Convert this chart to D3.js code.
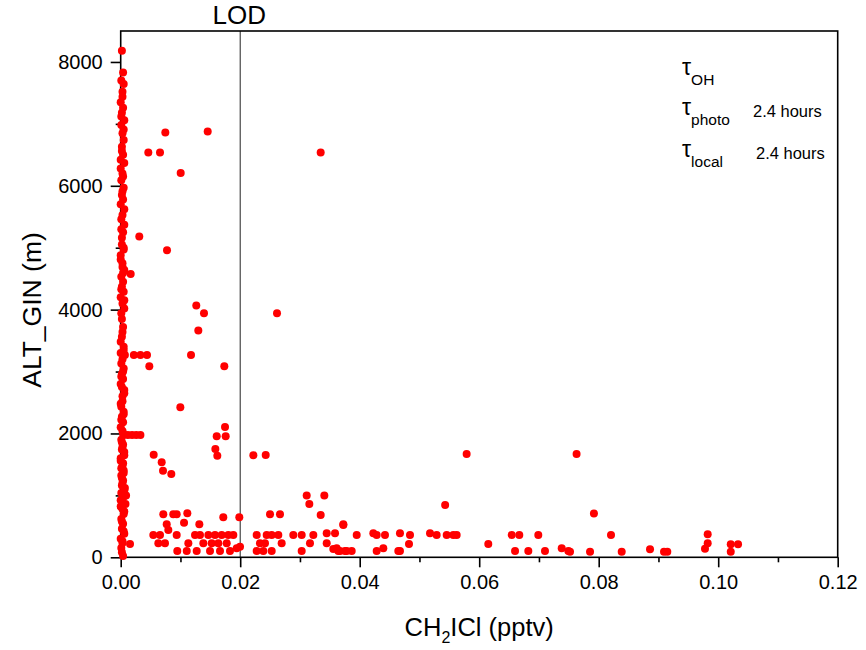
<!DOCTYPE html>
<html>
<head>
<meta charset="utf-8">
<script src="https://cdn.jsdelivr.net/npm/d3@7"></script>
<style>
  body { margin: 0; background: #fff; }
  svg text { font-family: "Liberation Sans", Arial, sans-serif; fill: #000; }
</style>
</head>
<body>
<svg id="chart" width="866" height="650"></svg>
<script>
// points hugging the x = 0 edge
let colConc = [0.0002, 0.0004, 0.0001, 0.0005, 0.0003, 0.0000, 0.0004, 0.0002, 0.0006, 0.0001,
  0.0003, 0.0005, 0.0002, 0.0004, 0.0000, 0.0006, 0.0003, 0.0001, 0.0005, 0.0002,
  0.0004, 0.0000, 0.0003, 0.0006, 0.0001, 0.0004, 0.0002, 0.0005, 0.0000, 0.0003,
  0.0006, 0.0001, 0.0004, 0.0002, 0.0005, 0.0000, 0.0003, 0.0006, 0.0001, 0.0004,
  0.0002, 0.0005, 0.0000, 0.0007, 0.0003, 0.0001, 0.0005, 0.0002, 0.0004, 0.0000,
  0.0006, 0.0003, 0.0001, 0.0005, 0.0002, 0.0004, 0.0000, 0.0003, 0.0005, 0.0001,
  0.0004, 0.0002, 0.0006, 0.0000, 0.0003, 0.0005, 0.0001, 0.0004, 0.0002, 0.0006,
  0.0009, 0.0000, 0.0008, 0.0003, 0.0005, 0.0001, 0.0004, 0.0002, 0.0006, 0.0000,
  0.0003, 0.0001, 0.0002, 0.0004,
  0.0003, 0.0001, 0.0005, 0.0002, 0.0000, 0.0004, 0.0003, 0.0006, 0.0001, 0.0002,
  0.0005, 0.0000, 0.0003, 0.0004, 0.0001, 0.0006, 0.0002, 0.0003, 0.0000, 0.0005,
  0.0004, 0.0001, 0.0002, 0.0006, 0.0003, 0.0000, 0.0005, 0.0001, 0.0004, 0.0002,
  0.0003, 0.0006, 0.0000, 0.0004, 0.0001, 0.0005, 0.0002, 0.0003, 0.0007, 0.0001,
  0.0004, 0.0000, 0.0006, 0.0002, 0.0005, 0.0003];
let colAlt = [8180, 7830, 7700, 7645, 7440, 7350, 7260, 7180, 7060, 6980,
  6850, 6740, 6630, 6500, 6420, 6370, 6200, 6090, 5970, 5850,
  5780, 5700, 5530, 5370, 5300, 5250, 5050, 4970, 4880, 4750,
  4640, 4530, 4450, 4370, 4290, 4200, 4100, 4020, 3940, 3720,
  3560, 3400, 3300, 3268, 3200, 3130, 3050, 2960, 2880, 2800,
  2700, 2600, 2430, 2350, 2270, 2180, 2100, 2040, 1975, 1900,
  1820, 1740, 1650, 1560, 1480, 1400, 1320, 1240, 1160, 1080,
  1000, 920, 860, 780, 700, 620, 540, 460, 380, 300,
  230, 150, 80, 20,
  7520, 7120, 6910, 6560, 6280, 6150, 5910, 5620, 5460, 5160,
  5000, 4810, 4690, 4590, 4330, 4150, 3850, 3640, 3480, 3350,
  3000, 2920, 2750, 2650, 2520, 2480, 2310, 2220, 2000, 1860,
  1780, 1700, 1600, 1520, 1440, 1360, 1280, 1200, 1120, 1040,
  960, 820, 740, 580, 420, 260];

// scattered measurements
let conc = [0.00747, 0.01456, 0.00462, 0.00658, 0.01004, 0.00311, 0.00775, 0.00167, 0.01265, 0.01394,
  0.01299, 0.01177, 0.0022, 0.0033, 0.0044, 0.00479, 0.01734, 0.00998, 0.0012, 0.0019,
  0.0026, 0.0033, 0.01746, 0.01607, 0.01757, 0.01584, 0.01617, 0.00552, 0.00686, 0.00708,
  0.00847, 0.03347, 0.02616, 0.0222, 0.02427, 0.03113, 0.03408, 0.0579, 0.0543, 0.0763,
  0.0792,
  0.00713, 0.0088, 0.00937, 0.01115, 0.0077, 0.00797, 0.0106, 0.01316, 0.01717, 0.01985,
  0.02499, 0.02666, 0.03157, 0.03347, 0.00156, 0.00546, 0.00658, 0.0063, 0.00741, 0.00937,
  0.00947, 0.01132, 0.01105, 0.01272, 0.01244, 0.01327, 0.01467, 0.01578, 0.0169, 0.01801,
  0.01885, 0.01383, 0.01523, 0.01634, 0.01774, 0.01495, 0.01662, 0.01829, 0.01941, 0.01997,
  0.02276, 0.02443, 0.02527, 0.02638, 0.02331, 0.02415, 0.02694, 0.02276, 0.02387, 0.02527,
  0.02889, 0.03029, 0.03224, 0.03029, 0.03168, 0.03448, 0.03587, 0.03726, 0.03448, 0.03615,
  0.0367, 0.03782,
  0.03726, 0.0395, 0.03558, 0.03642, 0.03754, 0.03866, 0.04228, 0.04284, 0.04423, 0.04674,
  0.04842, 0.04284, 0.04395, 0.04646, 0.04674, 0.04825, 0.05177, 0.05288, 0.05456, 0.05567,
  0.05623, 0.06152, 0.06544, 0.06671, 0.066, 0.06822, 0.06989, 0.07101, 0.07381, 0.07492,
  0.0752, 0.07855, 0.08206, 0.08385, 0.08859, 0.09093, 0.09148, 0.09824, 0.09824, 0.09779,
  0.1021, 0.10332, 0.1021];
let alt = [6860, 6876, 6536, 6536, 6208, 5180, 4960, 4577, 4065, 3942,
  3661, 3268, 3268, 3268, 3268, 3085, 3085, 2423, 1975, 1975,
  1975, 1975, 2105, 1955, 1955, 1750, 1641, 1657, 1535, 1399,
  1346, 6536, 3942, 1648, 1653, 1000, 1000, 1669, 845, 1669,
  706,
  695, 695, 695, 711, 533, 441, 559, 533, 646, 646,
  695, 695, 861, 683, 215, 360, 360, 226, 226, 360,
  102, 226, 102, 102, 360, 360, 360, 360, 360, 360,
  360, 226, 226, 226, 226, 102, 102, 102, 145, 171,
  360, 360, 360, 360, 226, 226, 226, 102, 102, 102,
  360, 360, 360, 102, 226, 388, 388, 522, 226, 145,
  102, 102,
  533, 360, 134, 102, 102, 102, 388, 360, 360, 388,
  360, 102, 145, 102, 102, 215, 388, 360, 360, 360,
  360, 215, 360, 360, 102, 102, 360, 102, 145, 102,
  91, 91, 360, 91, 129, 91, 91, 372, 226, 139,
  210, 210, 91];

let xMajor = [0, 0.02, 0.04, 0.06, 0.08, 0.10, 0.12];
let xMinor = [0.01, 0.03, 0.05, 0.07, 0.09, 0.11];
let yMajor = [0, 2000, 4000, 6000, 8000];
let yMinor = [1000, 3000, 5000, 7000];
let lod = 0.02;

let plotLeft = 120.7, plotRight = 837.7, plotTop = 31, plotBottom = 557.3;
let x = d3.scaleLinear().domain([0, 0.12]).range([plotLeft, plotRight]);
let y = d3.scaleLinear().domain([0, 8500]).range([plotBottom, plotTop]);

let svg = d3.select('#chart');

let points = [];
colConc.forEach(function (c, i) { points.push({ c: c, a: colAlt[i] }); });
conc.forEach(function (c, i) { points.push({ c: c, a: alt[i] }); });

// LOD line
svg.append('line')
    .attr('x1', x(lod)).attr('x2', x(lod))
    .attr('y1', plotTop).attr('y2', plotBottom)
    .attr('stroke', '#222').attr('stroke-width', 1);
svg.append('text')
    .attr('x', x(lod) - 1).attr('y', 24)
    .attr('text-anchor', 'middle')
    .style('font-size', '26px')
    .text('LOD');

// frame
svg.append('rect')
    .attr('x', plotLeft).attr('y', plotTop)
    .attr('width', plotRight - plotLeft).attr('height', plotBottom - plotTop)
    .attr('fill', 'none').attr('stroke', '#000').attr('stroke-width', 1.6);

// axes
svg.append('g')
    .attr('transform', 'translate(0,' + plotBottom + ')')
    .call(d3.axisBottom(x).tickValues(xMajor).tickFormat(d3.format('.2f')).tickSize(10).tickPadding(8));
svg.append('g')
    .attr('transform', 'translate(0,' + plotBottom + ')')
    .call(d3.axisBottom(x).tickValues(xMinor).tickFormat('').tickSize(5));
svg.append('g')
    .attr('transform', 'translate(' + plotLeft + ',0)')
    .call(d3.axisLeft(y).tickValues(yMajor).tickFormat(d3.format('d')).tickSize(10).tickPadding(8));
svg.append('g')
    .attr('transform', 'translate(' + plotLeft + ',0)')
    .call(d3.axisLeft(y).tickValues(yMinor).tickFormat('').tickSize(5));

svg.selectAll('.domain').remove();
svg.selectAll('.tick line').attr('stroke', '#000').attr('stroke-width', 1.6);
svg.selectAll('.tick text')
    .style('font-size', '20px')
    .style('font-family', '"Liberation Sans", Arial, sans-serif')
    .attr('fill', '#000');

// points drawn over the frame, as in the original
svg.append('g').selectAll('circle')
    .data(points)
    .enter().append('circle')
    .attr('cx', function (d) { return x(d.c); })
    .attr('cy', function (d) { return y(d.a); })
    .attr('r', 4)
    .attr('fill', '#ff0000');

// axis titles
let xTitle = svg.append('text')
    .attr('x', (plotLeft + plotRight) / 2).attr('y', 636)
    .attr('text-anchor', 'middle')
    .style('font-size', '25.5px');
xTitle.append('tspan').text('CH');
xTitle.append('tspan').attr('dy', 7).style('font-size', '16px').text('2');
xTitle.append('tspan').attr('dy', -7).text('ICl (pptv)');

svg.append('text')
    .attr('transform', 'translate(41,310) rotate(-90)')
    .attr('text-anchor', 'middle')
    .style('font-size', '26.5px')
    .text('ALT_GIN (m)');

// lifetime annotation
let notes = [
  { sub: 'OH', value: '', base: 75 },
  { sub: 'photo', value: '2.4 hours', base: 115, vx: 753 },
  { sub: 'local', value: '2.4 hours', base: 157, vx: 756 }
];
notes.forEach(function (n) {
    let t = svg.append('text').attr('x', 682).attr('y', n.base);
    t.append('tspan').style('font-size', '23px').text('\u03c4');
    t.append('tspan').attr('dy', 10).style('font-size', '15.5px').text(n.sub);
    if (n.value) {
        svg.append('text').attr('x', n.vx).attr('y', n.base + 2)
            .style('font-size', '16.5px').text(n.value);
    }
});
</script>
</body>
</html>
